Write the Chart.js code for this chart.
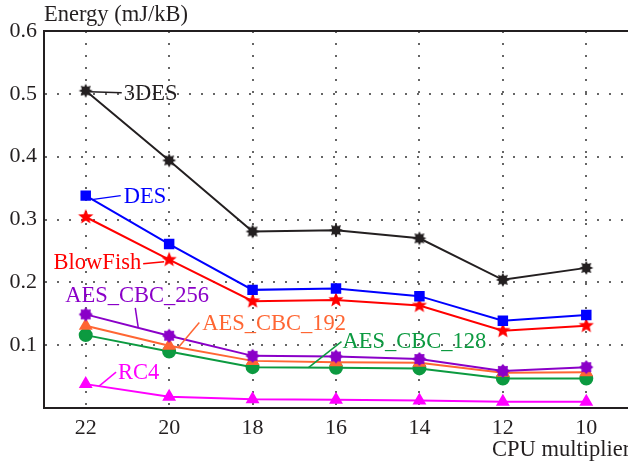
<!DOCTYPE html>
<html>
<head>
<meta charset="utf-8">
<script src="https://cdn.jsdelivr.net/npm/chart.js@4"></script>
<style>
  html, body { margin: 0; padding: 0; background: #fff; }
  #wrap { width: 628px; height: 466px; }
</style>
</head>
<body>
<div id="wrap"><canvas id="myChart" width="628" height="466"></canvas></div>
<script>
// data ==>
var labels = ['22', '20', '18', '16', '14', '12', '10'];
var yTicks = [0.1, 0.2, 0.3, 0.4, 0.5, 0.6];
var des3 = [0.505, 0.394, 0.281, 0.283, 0.270, 0.204, 0.223];
var des = [0.338, 0.261, 0.188, 0.190, 0.178, 0.139, 0.148];
var blowfish = [0.304, 0.236, 0.170, 0.172, 0.163, 0.123, 0.131];
var aes256 = [0.149, 0.115, 0.083, 0.082, 0.078, 0.059, 0.065];
var aes192 = [0.131, 0.099, 0.075, 0.073, 0.072, 0.056, 0.057];
var aes128 = [0.116, 0.090, 0.065, 0.064, 0.063, 0.047, 0.047];
var rc4 = [0.038, 0.018, 0.014, 0.013, 0.012, 0.010, 0.010];

var serif = "'Liberation Serif', 'DejaVu Serif', serif";

// star shaped markers ==>
function starImg(points, outer, inner, color) {
    var s = outer * 2 + 2;
    var c = document.createElement('canvas');
    c.width = s; c.height = s;
    var g = c.getContext('2d');
    g.fillStyle = color;
    g.beginPath();
    for (var i = 0; i < points * 2; i++) {
        var r = i % 2 == 0 ? outer : inner;
        var a = -Math.PI / 2 + i * Math.PI / points;
        var x = s / 2 + r * Math.cos(a), y = s / 2 + r * Math.sin(a);
        if (i == 0) g.moveTo(x, y); else g.lineTo(x, y);
    }
    g.closePath();
    g.fill();
    return c;
}
var burstBlack = starImg(8, 7, 4.2, '#231f20');
var starRed = starImg(5, 8, 3.5, '#ff0000');
var burstPurple = starImg(8, 7, 5.2, '#8a00c8');

function ds(label, data, color, style, radius) {
    return {
        label: label,
        data: data,
        borderColor: color,
        backgroundColor: color,
        borderWidth: 2,
        pointStyle: style,
        pointRadius: radius,
        pointHoverRadius: radius,
        tension: 0
    };
}

// labels with leader lines: anchor on segment (i -> i+1, t), leader end offset, text pos offset
var notes = [
    { ds: 0, i: 0, t: 0, from: [4, 1], to: [36, 2], text: '3DES', tx: [38, 3], align: 'left', color: '#231f20' },
    { ds: 1, i: 0, t: 0, from: [6, 4], to: [35, 0], text: 'DES', tx: [38, 1], align: 'left', color: '#0000ff' },
    { ds: 2, i: 1, t: 0, from: [-5, 2], to: [-26, 4], text: 'BlowFish', tx: [-28, 3], align: 'right', color: '#ff0000' },
    { ds: 3, i: 0, t: 0.63, from: [0, 0], to: [-3, -20], text: 'AES_CBC_256', tx: [-73, -32], align: 'left', color: '#8a00c8' },
    { ds: 4, i: 1, t: 0.11, from: [0, 0], to: [21, -25], text: 'AES_CBC_192', tx: [24, -23], align: 'left', color: '#ff6633' },
    { ds: 5, i: 2, t: 0.67, from: [0, 0], to: [33, -26], text: 'AES_CBC_128', tx: [34, -25], align: 'left', color: '#0c9a40' },
    { ds: 6, i: 0, t: 0.16, from: [0, 0], to: [17, -14], text: 'RC4', tx: [19, -13], align: 'left', color: '#ff00ff' }
];

var notePlugin = {
    id: 'notes',
    afterDatasetsDraw: function(chart) {
        var c = chart.ctx;
        c.save();
        notes.forEach(function(n) {
            var pts = chart.getDatasetMeta(n.ds).data;
            var a = pts[n.i], b = pts[n.i + 1];
            var x = a.x + (b.x - a.x) * n.t, y = a.y + (b.y - a.y) * n.t;
            c.strokeStyle = n.color;
            c.lineWidth = 1.5;
            c.beginPath();
            c.moveTo(x + n.from[0], y + n.from[1]);
            c.lineTo(x + n.to[0], y + n.to[1]);
            c.stroke();
            c.fillStyle = n.color;
            c.font = '22.5px ' + serif;
            c.textAlign = n.align;
            c.textBaseline = 'middle';
            c.fillText(n.text, x + n.tx[0], y + n.tx[1]);
        });
        // frame top + axis titles
        var ca = chart.chartArea;
        c.strokeStyle = '#231f20';
        c.lineWidth = 2;
        c.beginPath();
        c.moveTo(ca.left, ca.top);
        c.lineTo(ca.right, ca.top);
        c.stroke();
        c.fillStyle = '#231f20';
        c.font = '22.5px ' + serif;
        c.textAlign = 'left';
        c.textBaseline = 'middle';
        c.fillText('Energy (mJ/kB)', ca.left, 15);
        c.fillText('CPU multiplier', 492, 450);
        c.restore();
    }
};

const ctx = document.getElementById('myChart');
Chart.defaults.font.family = serif;
Chart.defaults.font.size = 22;
Chart.defaults.color = '#231f20';
new Chart(ctx, {
    type: 'line',
    data: {
        labels: labels,
        datasets: [
            ds('3DES', des3, '#231f20', burstBlack, 7),
            ds('DES', des, '#0000ff', 'rect', 6),
            ds('BlowFish', blowfish, '#ff0000', starRed, 8),
            ds('AES_CBC_256', aes256, '#8a00c8', burstPurple, 7),
            ds('AES_CBC_192', aes192, '#ff6633', 'triangle', 6),
            ds('AES_CBC_128', aes128, '#0c9a40', 'circle', 6),
            ds('RC4', rc4, '#ff00ff', 'triangle', 6)
        ]
    },
    options: {
        responsive: false,
        animation: false,
        layout: { autoPadding: false, padding: { top: 31, right: -4, left: 0, bottom: 0 } },
        plugins: { legend: { display: false }, tooltip: { enabled: false } },
        scales: {
            x: {
                offset: true,
                grid: { offset: false, color: '#666', lineWidth: 2, drawTicks: false },
                border: { color: '#231f20', width: 2, dash: [2, 10] },
                ticks: { padding: 7, color: '#231f20', maxRotation: 0 },
                afterFit: function(s) { s.height = 58; }
            },
            y: {
                min: 0,
                max: 0.6,
                afterBuildTicks: function(s) {
                    s.ticks = [0].concat(yTicks).map(function(v) { return { value: v }; });
                },
                grid: { color: '#666', lineWidth: 2, drawTicks: false },
                border: { color: '#231f20', width: 2, dash: [2, 10] },
                ticks: {
                    padding: 7,
                    color: '#231f20',
                    callback: function(v) { return v == 0 ? '' : v.toFixed(1); }
                },
                afterFit: function(s) { s.width = 44; }
            }
        }
    },
    plugins: [notePlugin]
});
</script>
</body>
</html>
